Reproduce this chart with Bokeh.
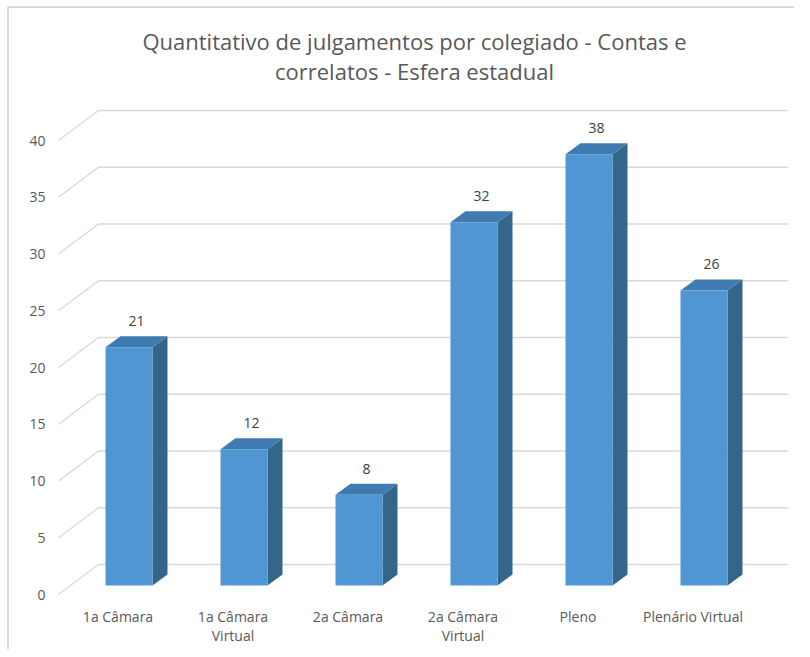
from bokeh.plotting import figure
from bokeh.models import Range1d, Label
from bokeh.core.properties import value
from bokeh.embed import file_html
from bokeh.resources import INLINE

# ---- data ----
categories = ["1a Câmara", "1a Câmara\nVirtual", "2a Câmara", "2a Câmara\nVirtual", "Pleno", "Plenário Virtual"]
counts = [21, 12, 8, 32, 38, 26]
y_ticks = [0, 5, 10, 15, 20, 25, 30, 35, 40]
title_lines = ["Quantitativo de julgamentos por colegiado - Contas e", "correlatos - Esfera estadual"]

# ---- layout constants (pixels) ----
W, H = 794, 649
PX = 115.0      # pixels per category slot
PY = 11.35      # pixels per unit value
X0 = 128.5      # canvas x of first bar centre
Y0 = 594.0      # canvas y (from top) of front floor

x_start = -X0 / PX
x_end = (W - X0) / PX
y_start = -(H - Y0) / PY
y_end = Y0 / PY

p = figure(width=W, height=H, output_backend="svg", toolbar_location=None,
           x_range=Range1d(x_start, x_end), y_range=Range1d(y_start, y_end),
           min_border=0, min_border_left=0, min_border_right=0,
           min_border_top=0, min_border_bottom=0)
p.axis.visible = False
p.grid.visible = False
p.outline_line_color = None
p.background_fill_color = "white"

FONT = "Open Sans"
GRID = "#d9d9d9"
TXT = "#595959"

# wall geometry
wdx = 40 / PX
wdy = 30 / PY
front_x = (58 - X0) / PX
back_x = front_x + wdx
right_x = (788 - X0) / PX

gx, gy = [], []
for t in y_ticks:
    gx.append([front_x, back_x, right_x])
    gy.append([t, t + wdy, t + wdy])
p.multi_line(gx, gy, line_color=GRID, line_width=1.3)

# tick labels
p.text(x=[(45 - X0) / PX] * len(y_ticks), y=y_ticks, text=[str(t) for t in y_ticks],
       text_align="right", text_baseline="middle", text_font=value(FONT),
       text_font_size="14px", text_color=TXT)

# bars
bw = 23.5 / PX
bdx = 15 / PX
bdy = 11 / PY
b0 = 9 / PY
xs = list(range(len(counts)))
front_xs, front_ys, top_xs, top_ys, side_xs, side_ys = [], [], [], [], [], []
for i, v in zip(xs, counts):
    xl, xr = i - bw, i + bw
    yb, yt = b0, b0 + v
    front_xs.append([xl, xr, xr, xl]); front_ys.append([yb, yb, yt, yt])
    top_xs.append([xl, xr, xr + bdx, xl + bdx]); top_ys.append([yt, yt, yt + bdy, yt + bdy])
    side_xs.append([xr, xr + bdx, xr + bdx, xr]); side_ys.append([yb, yb + bdy, yt + bdy, yt])
p.patches(side_xs, side_ys, fill_color="#346689", line_color=None)
p.patches(top_xs, top_ys, fill_color="#3f7bb1", line_color=None)
p.patches(front_xs, front_ys, fill_color="#4f96d2", line_color=None)

# data labels
p.text(x=[i + bdx / 2 for i in xs], y=[b0 + v + 2.3 for v in counts], text=[str(v) for v in counts],
       text_align="center", text_baseline="middle", text_font=value(FONT),
       text_font_size="14px", text_color="#404040")

# category labels (two lines)
line1 = [c.split("\n")[0] for c in categories]
line2 = [c.split("\n")[1] if "\n" in c else "" for c in categories]
p.text(x=[i - 11 / PX for i in xs], y=[-(616 - Y0) / PY] * len(xs), text=line1,
       text_align="center", text_baseline="middle", text_font=value(FONT),
       text_font_size="14px", text_color=TXT)
p.text(x=[i - 11 / PX for i in xs], y=[-(635 - Y0) / PY] * len(xs), text=line2,
       text_align="center", text_baseline="middle", text_font=value(FONT),
       text_font_size="14px", text_color=TXT)

# title
for k, line in enumerate(title_lines):
    p.add_layout(Label(x=414, y=H - 40 - 30 * k, x_units="screen", y_units="screen",
                       text=line, text_align="center", text_baseline="middle",
                       text_font=FONT, text_font_size="22px", text_color=TXT))

# chart border (left and top)
bx = x_start + 7.5 / PX
by = y_end - 6.5 / PY
p.line([bx, bx, x_end], [y_start, by, by], line_color="#d9d9d9", line_width=2)

open("out.html", "w").write(file_html(p, INLINE))
